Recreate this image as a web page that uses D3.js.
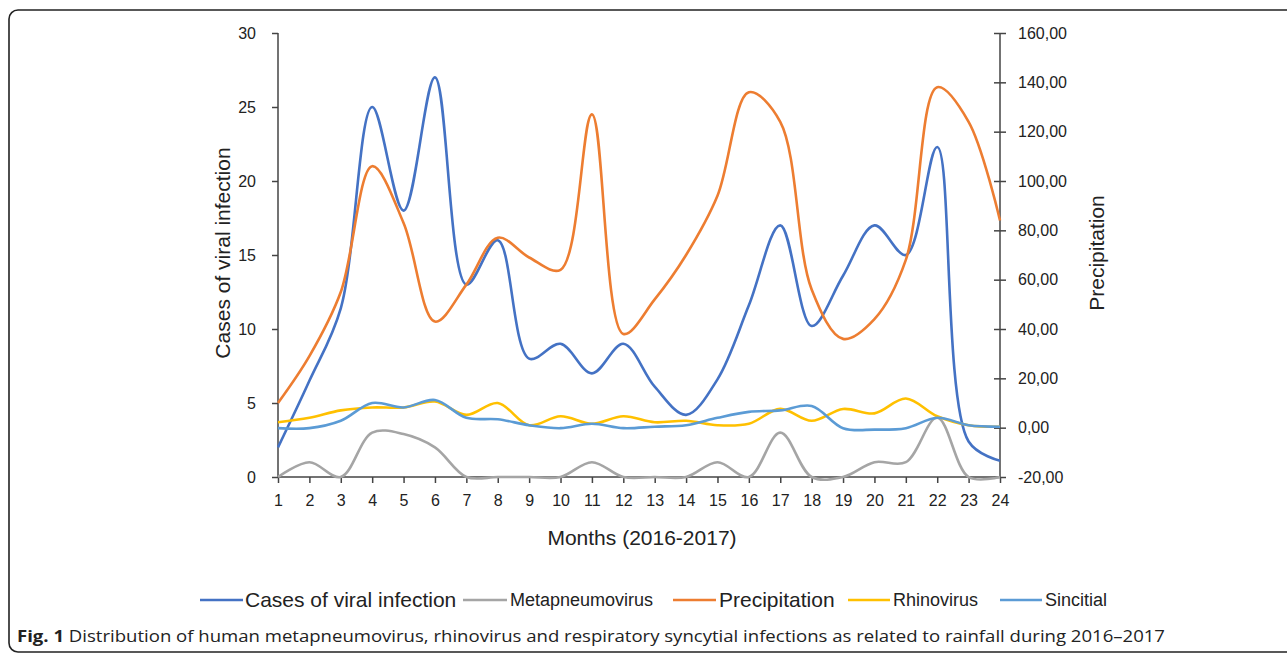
<!DOCTYPE html>
<html><head><meta charset="utf-8">
<script src="https://cdn.jsdelivr.net/npm/d3@7"></script>
<style>
html,body{margin:0;padding:0;background:#fff;}
svg text{font-family:"Liberation Sans",Arial,sans-serif;fill:#222;}
</style></head>
<body><svg id="chart" width="1287" height="655"></svg>
<script>
const months = d3.range(1, 25);
const monthLabels = months.map(String);
const cases = [2.0, 6.5, 11.4, 25, 18, 27, 13, 16, 8, 9, 7, 9, 6.1, 4.2, 6.6, 11.6, 17, 10.2, 13.6, 17, 15, 22.3, 2.4, 1.1];
const metapneumovirus = [0, 1, 0, 3.0, 2.9, 2.0, 0, 0, 0, 0, 1, 0, 0, 0, 1, 0, 3, 0, 0, 1, 1, 4, 0, 0];
const precipitation = [10, 29, 55, 106, 83, 43, 58, 77, 69, 64, 127, 38, 52, 70, 94, 136, 124, 56, 36, 44, 68, 138, 124, 84];
const rhinovirus = [3.7, 4.0, 4.5, 4.7, 4.7, 5.1, 4.2, 5.0, 3.5, 4.1, 3.6, 4.1, 3.7, 3.8, 3.5, 3.6, 4.6, 3.8, 4.6, 4.3, 5.3, 4.1, 3.5, 3.4];
const sincitial = [3.3, 3.3, 3.8, 5.0, 4.7, 5.2, 4.0, 3.9, 3.5, 3.3, 3.6, 3.3, 3.4, 3.5, 4.0, 4.4, 4.5, 4.8, 3.3, 3.2, 3.3, 4.0, 3.5, 3.4];
const leftTicks = [0, 5, 10, 15, 20, 25, 30];
const rightTicks = [-20, 0, 20, 40, 60, 80, 100, 120, 140, 160];
const seriesNames = ["Cases of viral infection", "Metapneumovirus", "Precipitation", "Rhinovirus", "Sincitial"];
const seriesColors = ["#4472c4", "#a5a5a5", "#ed7d31", "#ffc000", "#5b9bd5"];

const svg = d3.select("#chart");
// frame
svg.append("rect").attr("x", 9).attr("y", 10).attr("width", 1300).attr("height", 642)
  .attr("rx", 9).attr("fill", "none").attr("stroke", "#222").attr("stroke-width", 1.6);

const x = d3.scaleLinear().domain([1, 24]).range([278, 1000]);
const yL = d3.scaleLinear().domain([0, 30]).range([477, 33]);
const yR = d3.scaleLinear().domain([-20, 160]).range([477, 33]);

const axisColor = "#444";
const gL = svg.append("g").attr("transform", "translate(278,0)")
  .call(d3.axisLeft(yL).tickValues(leftTicks).tickSize(6).tickPadding(16).tickFormat(d => String(d)));
const fmtR = d => d3.format(".2f")(d).replace(".", ",").replace("\u2212", "-");
const gR = svg.append("g").attr("transform", "translate(1000,0)")
  .call(d3.axisRight(yR).tickValues(rightTicks).tickSize(6).tickPadding(12).tickFormat(fmtR));
gR.selectAll(".tick line").attr("x1", -6).attr("x2", 6);
const gB = svg.append("g").attr("transform", "translate(0,477)")
  .call(d3.axisBottom(x).tickValues(months).tickSize(6).tickPadding(12).tickFormat((d, i) => monthLabels[i]));

[gL, gR, gB].forEach(g => {
  g.selectAll(".domain").attr("stroke", axisColor).attr("stroke-width", 1.5);
  g.selectAll(".tick line").attr("stroke", axisColor).attr("stroke-width", 1.5);
  g.selectAll(".tick text").attr("font-size", 16).attr("fill", "#222")
    .attr("font-family", "Liberation Sans, Arial, sans-serif");
});
gL.select(".domain").attr("d", "M0,477V33");
gR.select(".domain").attr("d", "M0,477V33");
gB.select(".domain").attr("d", "M278,0H1000");

// axis titles
svg.append("text").attr("transform", "translate(230,253) rotate(-90)").attr("text-anchor", "middle")
  .attr("font-size", 21).text("Cases of viral infection");
svg.append("text").attr("transform", "translate(1104,253) rotate(-90)").attr("text-anchor", "middle")
  .attr("font-size", 21).text("Precipitation");
svg.append("text").attr("x", 642).attr("y", 545).attr("text-anchor", "middle")
  .attr("font-size", 21).text("Months (2016-2017)");

// lines
const curve = d3.curveCatmullRom.alpha(0.5);
const seriesData = [
  {vals: cases, y: yL},
  {vals: metapneumovirus, y: yL},
  {vals: precipitation, y: yR},
  {vals: rhinovirus, y: yL},
  {vals: sincitial, y: yL}
];
seriesData.forEach((s, i) => {
  const line = d3.line().x((d, j) => x(months[j])).y(d => s.y(d)).curve(curve);
  svg.append("path").datum(s.vals).attr("d", line).attr("fill", "none")
    .attr("stroke", seriesColors[i]).attr("stroke-width", 2.6).attr("stroke-linejoin", "round");
});

// legend
const legendItems = [
  {x1: 200, x2: 243, tx: 245, size: 21},
  {x1: 463, x2: 507, tx: 510, size: 18},
  {x1: 673, x2: 716, tx: 719, size: 21},
  {x1: 848, x2: 890, tx: 893, size: 18},
  {x1: 1000, x2: 1042, tx: 1045, size: 18}
];
legendItems.forEach((it, i) => {
  svg.append("line").attr("x1", it.x1).attr("x2", it.x2).attr("y1", 600).attr("y2", 600)
    .attr("stroke", seriesColors[i]).attr("stroke-width", 2.6);
  svg.append("text").attr("x", it.tx).attr("y", 600).attr("dy", "0.35em")
    .attr("font-size", it.size).text(seriesNames[i]);
});

// caption
const cap = svg.append("text").attr("x", 17).attr("y", 642).attr("font-size", 16)
  .style("font-family", "'Open Sans','Noto Sans',sans-serif");
cap.append("tspan").attr("font-weight", "bold").text("Fig. 1");
cap.append("tspan").text(" Distribution of human metapneumovirus, rhinovirus and respiratory syncytial infections as related to rainfall during 2016\u20132017");
const w = cap.node().getComputedTextLength();
if (Math.abs(w - 1148) > 10) cap.attr("textLength", 1148).attr("lengthAdjust", "spacingAndGlyphs");
</script></body></html>
